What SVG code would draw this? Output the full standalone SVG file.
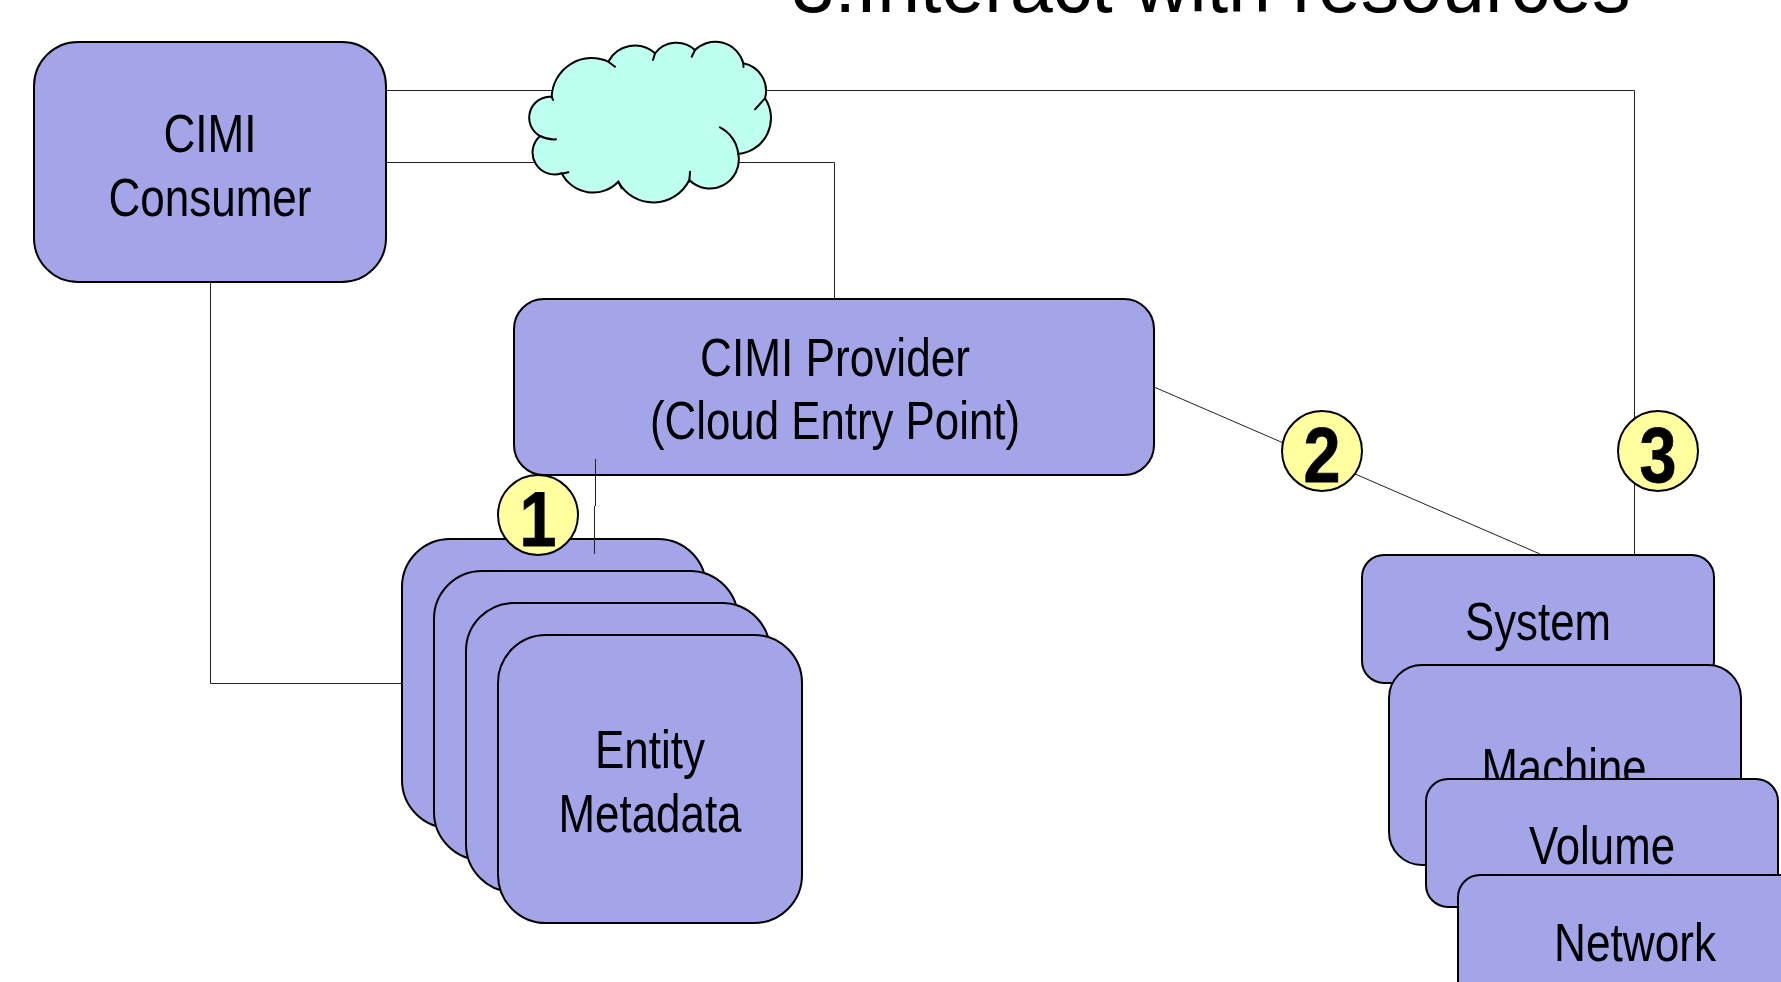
<svg xmlns="http://www.w3.org/2000/svg" width="1781" height="982" viewBox="0 0 1781 982">
<style>
.box{fill:#a4a4e8;stroke:#000;stroke-width:2}
.lbl{font-family:"Liberation Sans",Arial,sans-serif;font-size:54px;text-anchor:middle;fill:#000}
.badge{fill:#ffff9f;stroke:#000;stroke-width:2}
.num{font-family:"Liberation Sans",Arial,sans-serif;font-size:78px;font-weight:bold;text-anchor:middle;fill:#000;stroke:#000;stroke-width:.8}
.conn{fill:none;stroke:#222;stroke-width:1}
.cloud{fill:#bfffef;stroke:#000;stroke-width:2;stroke-linecap:round}
</style>
<rect width="1781" height="982" fill="#fff"/>
<text id="title" x="1211" y="12" font-family="'Liberation Sans',Arial,sans-serif" font-size="77" text-anchor="middle">3:Interact with resources</text>
<g id="connectors">
<path class="conn" d="M386 90.500H1634.500V554"/>
<path class="conn" d="M386 162.500H834.500V299"/>
<path class="conn" d="M210.500 283V683.500H402"/>
<path class="conn" d="M1154 387L1540 554"/>
</g>
<g id="cloud">
<path class="cloud" d="M551.700 96.700A40 40 0 0 1 608.300 61.700A30 30 0 0 1 655 53.300A27 27 0 0 1 695 50A29 29 0 0 1 743.300 63.300A28 28 0 0 1 765 98.300A36 36 0 0 1 738.300 154A29 29 0 0 1 689.300 180A40 40 0 0 1 618.300 181.700A35 35 0 0 1 561.700 173.300A22 22 0 0 1 540 136A21 21 0 0 1 551.700 96.700Z"/>
<path class="cloud" style="fill:none" d="M551.700 96.700L553 100M608.300 61.700L615 66.700M655 53.300L653 60M695 50L691.700 56.700M743.300 63.300L743.500 67M765 98.300L755 109.300M720 127.300A34 34 0 0 1 738.300 154M690 171.700L689.300 181.700M618.300 181.700L621.700 188.300M568.300 172.300L561.700 173.700M556 139.300A30 30 0 0 1 540 136"/>
</g>
<g id="consumer">
<rect class="box" x="34" y="42" width="352" height="240" rx="44"/>
<text class="lbl" x="210" y="152" textLength="93" lengthAdjust="spacingAndGlyphs">CIMI</text>
<text class="lbl" x="210" y="216" textLength="203" lengthAdjust="spacingAndGlyphs">Consumer</text>
</g>
<g id="provider">
<rect class="box" x="514" y="299" width="640" height="176" rx="30"/>
<text class="lbl" x="835" y="376" textLength="270" lengthAdjust="spacingAndGlyphs">CIMI Provider</text>
<text class="lbl" x="835" y="439" textLength="370" lengthAdjust="spacingAndGlyphs">(Cloud Entry Point)</text>
</g>
<g id="entity-1"><rect class="box" x="402" y="539" width="304" height="289" rx="48"/></g>
<g id="entity-2"><rect class="box" x="434" y="571" width="304" height="289" rx="48"/></g>
<g id="entity-3"><rect class="box" x="466" y="603" width="304" height="289" rx="48"/></g>
<g id="entity-4">
<rect class="box" x="498" y="635" width="304" height="288" rx="48"/>
<text class="lbl" x="650" y="768" textLength="110" lengthAdjust="spacingAndGlyphs">Entity</text>
<text class="lbl" x="650" y="832" textLength="183" lengthAdjust="spacingAndGlyphs">Metadata</text>
</g>
<g id="connector-1"><path class="conn" d="M595.500 459V506M594.500 506V554"/></g>
<g id="system">
<rect class="box" x="1362" y="555" width="352" height="128" rx="22"/>
<text class="lbl" x="1538" y="640" textLength="146" lengthAdjust="spacingAndGlyphs">System</text>
</g>
<g id="machine">
<rect class="box" x="1389" y="665" width="352" height="200" rx="33"/>
<text class="lbl" x="1564" y="786" textLength="165" lengthAdjust="spacingAndGlyphs">Machine</text>
</g>
<g id="volume">
<rect class="box" x="1426" y="779" width="352" height="128" rx="22"/>
<text class="lbl" x="1602" y="864" textLength="146" lengthAdjust="spacingAndGlyphs">Volume</text>
</g>
<g id="network">
<rect class="box" x="1458" y="875" width="352" height="129" rx="22"/>
<text class="lbl" x="1635" y="961" textLength="162" lengthAdjust="spacingAndGlyphs">Network</text>
</g>
<g id="badge-1">
<circle class="badge" cx="538" cy="515" r="40"/>
<text class="num" x="538" y="546" textLength="37" lengthAdjust="spacingAndGlyphs">1</text>
</g>
<g id="badge-2">
<circle class="badge" cx="1322" cy="451" r="40"/>
<text class="num" x="1322" y="482" textLength="37" lengthAdjust="spacingAndGlyphs">2</text>
</g>
<g id="badge-3">
<circle class="badge" cx="1658" cy="451" r="40"/>
<text class="num" x="1658" y="482" textLength="37" lengthAdjust="spacingAndGlyphs">3</text>
</g>
</svg>
